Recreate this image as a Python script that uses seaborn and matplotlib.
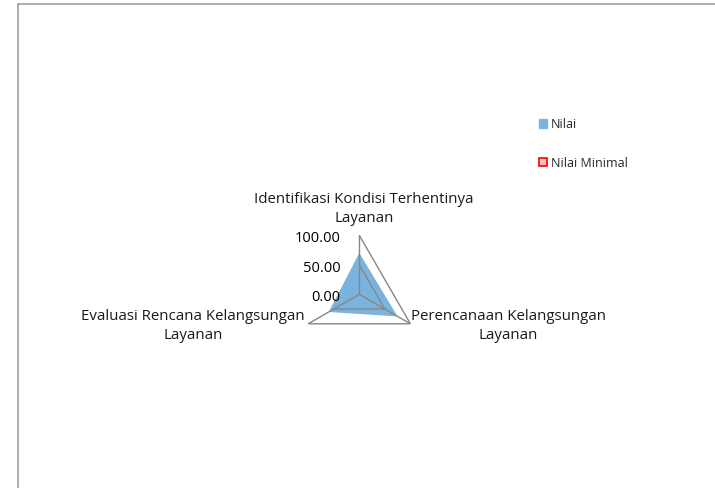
import numpy as np
import pandas as pd
import matplotlib
matplotlib.use("Agg")
import matplotlib.pyplot as plt
import seaborn as sns
from matplotlib.patches import Patch


categories = ['Identifikasi Kondisi Terhentinya\nLayanan',
              'Perencanaan Kelangsungan\nLayanan',
              'Evaluasi Rencana Kelangsungan\nLayanan']
nilai = [70, 75, 60]
nilai_minimal = [0, 0, 0]
r_ticks = [0, 50, 100]
r_tick_labels = ['0.00', '50.00', '100.00']
series_names = ['Nilai', 'Nilai Minimal']

sns.set_style('white')
plt.rcParams['font.family'] = ['Open Sans', 'DejaVu Sans']

W, H = 715, 488
fig = plt.figure(figsize=(W / 100, H / 100), dpi=100)

# polar axes placed so the centre sits at (359, 294) px, radius 59 px
cx, cy, rad = 359.3, 294.3, 59
ax = fig.add_axes([(cx - rad) / W, (H - cy - rad) / H, 2 * rad / W, 2 * rad / H],
                  projection='polar')
ax.set_theta_offset(np.pi / 2)
ax.set_theta_direction(-1)
ax.set_ylim(0, 100)
ax.grid(False)
ax.spines['polar'].set_visible(False)
ax.set_xticks([])
ax.set_yticks([])
ax.patch.set_alpha(0)

n = len(categories)
theta = np.linspace(0, 2 * np.pi, n, endpoint=False)
theta_c = np.append(theta, theta[0])

df = pd.DataFrame({'theta': np.tile(theta_c, 2),
                   'value': np.append(nilai, nilai[0]).tolist() + np.append(nilai_minimal, nilai_minimal[0]).tolist(),
                   'series': [series_names[0]] * (n + 1) + [series_names[1]] * (n + 1)})

blue = '#7BB3DF'
d1 = df[df['series'] == 'Nilai']
ax.fill(d1['theta'], d1['value'], color=blue, zorder=2, lw=0)
d2 = df[df['series'] == 'Nilai Minimal']
ax.fill(d2['theta'], d2['value'], facecolor='#F2BFC2', edgecolor='red', lw=1, zorder=3)

# triangular grid and spokes
grid_col = '#878787'
for t in r_ticks[1:]:
    sns.lineplot(x=theta_c, y=[t] * (n + 1), sort=False, ax=ax, color=grid_col, lw=1.0,
                 zorder=4, legend=False)
for th in theta:
    ax.plot([th, th], [0, 100], color=grid_col, lw=1.0, zorder=4)

for v, lab in zip(r_ticks, r_tick_labels):
    ax.annotate(lab, xy=(0, v), xytext=(-19, -7), textcoords='offset pixels',
                ha='right', va='baseline', fontsize=10.5, color='black')

# category labels
lab_kw = dict(fontsize=10.8, linespacing=1.35, color='#1a1a1a', va='center', multialignment='center')
fig.text(364 / W, 1 - 209 / H, categories[0], ha='center', **lab_kw)
fig.text(411 / W, 1 - 326 / H, categories[1], ha='left', **lab_kw)
fig.text(305 / W, 1 - 326 / H, categories[2], ha='right', **lab_kw)

handles = [Patch(facecolor=blue, edgecolor=blue),
           Patch(facecolor='#F2BFC2', edgecolor='red', lw=1.2)]
fig.legend(handles, series_names, loc='upper left', bbox_to_anchor=(538.5 / W, 1 - 118 / H),
           frameon=False, fontsize=9, handlelength=0.65, handleheight=0.65,
           handletextpad=0.35, labelspacing=2.05, borderaxespad=0, borderpad=0)

# chart area border (left and top edges visible)
fig.add_artist(plt.Line2D([18 / W, 18 / W], [0, 1 - 4 / H], color='#A0A0A0', lw=1.2))
fig.add_artist(plt.Line2D([18 / W, 1], [1 - 4 / H, 1 - 4 / H], color='#A0A0A0', lw=1.2))

fig.savefig('out.png', dpi=100, facecolor='white')
